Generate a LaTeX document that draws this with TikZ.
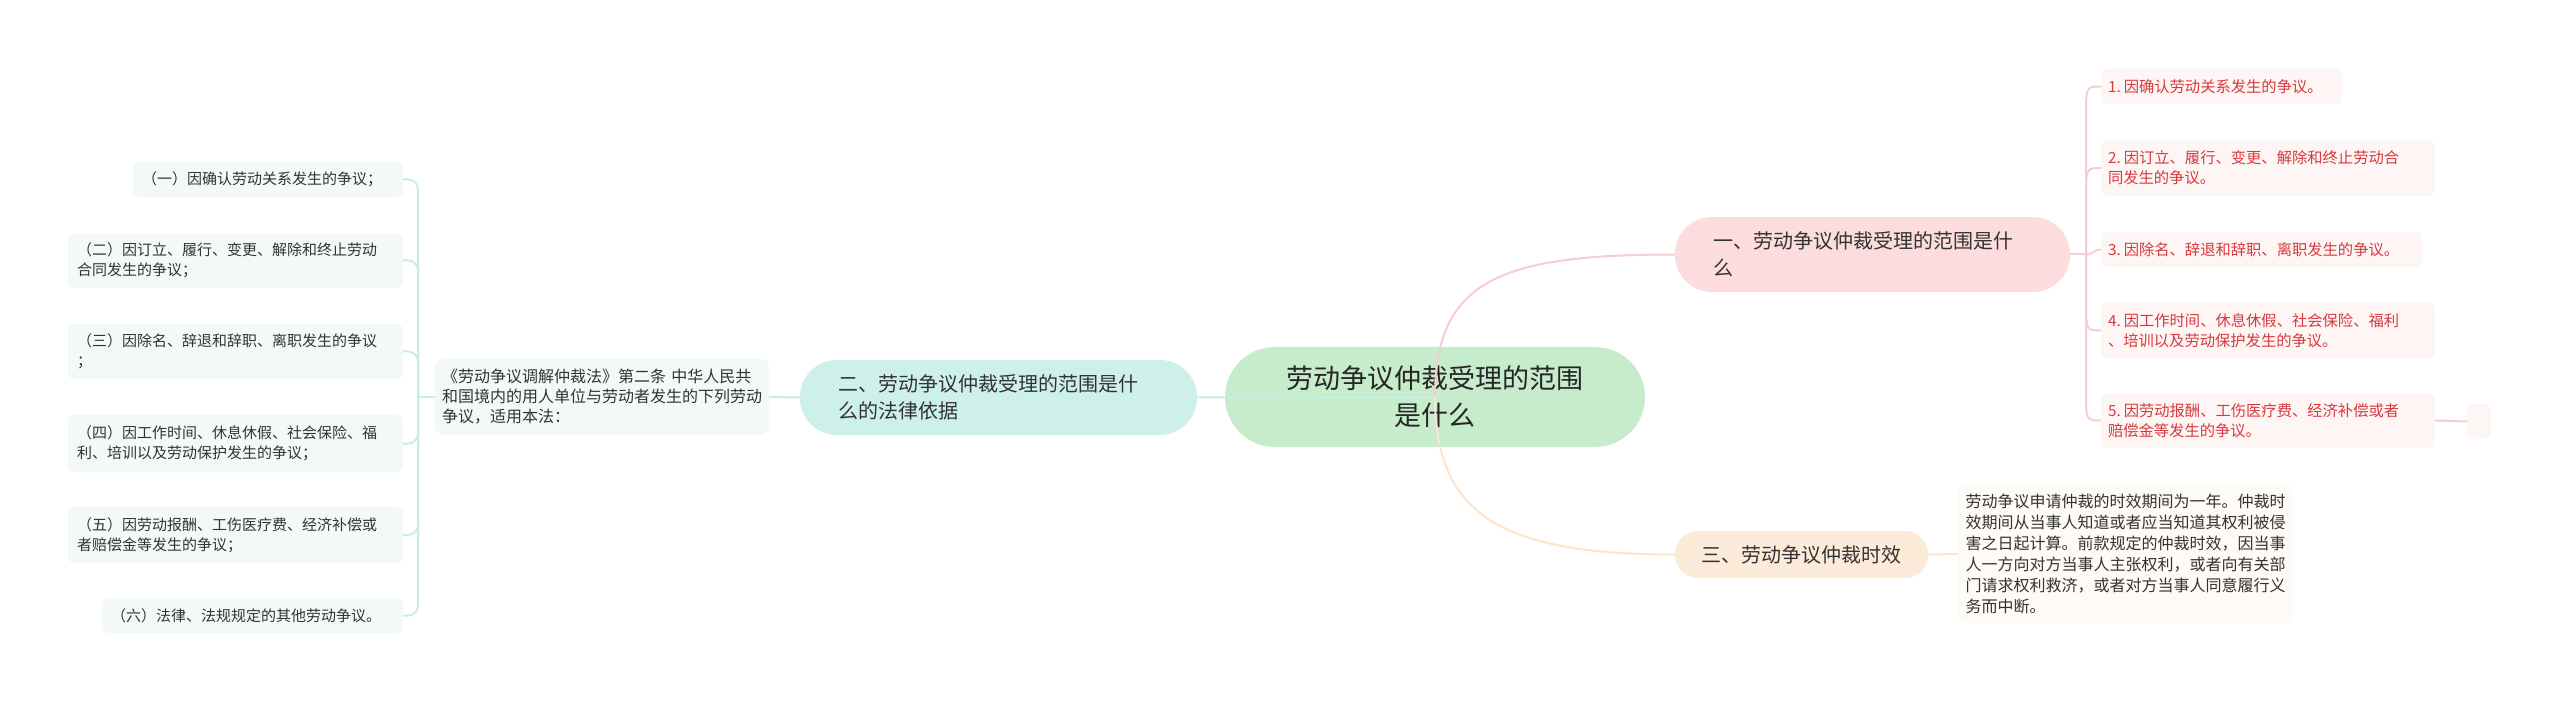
\documentclass[tikz,border=0pt]{standalone}
\usepackage{fontspec}
\setmainfont{Noto Sans CJK SC}
\usetikzlibrary{calc}
\definecolor{cfill}{HTML}{C6ECCB}
\definecolor{tfill}{HTML}{CEF0EA}
\definecolor{pfill}{HTML}{FCDCDC}
\definecolor{ofill}{HTML}{FDEBD9}
\definecolor{lfill}{HTML}{F3F9F9}
\definecolor{rfill}{HTML}{FEF5F5}
\definecolor{xfill}{HTML}{FEFAF5}
\definecolor{tline}{HTML}{C8ECE6}
\definecolor{pline}{HTML}{F6CDD0}
\definecolor{oline}{HTML}{FDE4CB}
\definecolor{txt}{HTML}{333333}
\definecolor{rtxt}{HTML}{D63A3F}
\begin{document}
\begin{tikzpicture}[x=1pt,y=-1pt,
  base/.style={inner ysep=0pt, outer sep=0pt, anchor=center, text=txt},
  pill/.style={base, align=left, font=\fontsize{20}{27}\selectfont},
  litem/.style={base, fill=lfill, rounded corners=6pt, inner xsep=9pt, align=left, font=\fontsize{15}{20}\selectfont},
  ritem/.style={base, fill=rfill, rounded corners=6pt, inner xsep=7pt, align=left, text=rtxt, font=\fontsize{15.3}{20}\selectfont},
  tl/.style={draw=tline, line width=2pt},
  pl/.style={draw=pline, line width=2pt},
  ol/.style={draw=oline, line width=2pt}]
\useasboundingbox (0,0) rectangle (2560,703);

% center
\node[base, fill=cfill, rounded corners=50pt, minimum width=420pt, minimum height=100pt, align=center, text=black!85, font=\fontsize{27}{37}\selectfont] (c) at (1435,397) {劳动争议仲裁受理的范围\\是什么};

% main branches
\node[pill, fill=tfill, rounded corners=37pt, inner xsep=38pt, text width=321pt, minimum height=75pt] (t) at (998.5,397.5) {二、劳动争议仲裁受理的范围是什\\么的法律依据};
\node[pill, fill=pfill, rounded corners=37pt, inner xsep=38pt, text width=319pt, minimum height=75pt] (p) at (1872.5,254.5) {一、劳动争议仲裁受理的范围是什\\么};
\node[pill, fill=ofill, rounded corners=23pt, inner xsep=12pt, text width=229pt, align=center, minimum height=47pt] (o) at (1801.5,554.5) {三、劳动争议仲裁时效};

% legal text
\node[base, fill=lfill, rounded corners=8pt, inner xsep=7pt, text width=320pt, minimum height=76pt, align=left, font=\fontsize{16}{20}\selectfont] (lg) at (602,397) {《劳动争议调解仲裁法》第二条 中华人民共\\和国境内的用人单位与劳动者发生的下列劳动\\争议，适用本法：};

% time text
\node[base, fill=xfill, rounded corners=8pt, inner xsep=7.5pt, text width=320pt, minimum height=138pt, align=left, font=\fontsize{16}{21}\selectfont] (x) at (2125.5,554) {劳动争议申请仲裁的时效期间为一年。仲裁时\\效期间从当事人知道或者应当知道其权利被侵\\害之日起计算。前款规定的仲裁时效，因当事\\人一方向对方当事人主张权利，或者向有关部\\门请求权利救济，或者对方当事人同意履行义\\务而中断。};

% left items
\node[litem, text width=252pt, minimum height=35pt] (l1) at (268,179.5) {（一）因确认劳动关系发生的争议；};
\node[litem, text width=317pt, minimum height=55pt] (l2) at (235.5,260.5) {（二）因订立、履行、变更、解除和终止劳动\\合同发生的争议；};
\node[litem, text width=317pt, minimum height=55pt] (l3) at (235.5,351.5) {（三）因除名、辞退和辞职、离职发生的争议\\；};
\node[litem, text width=317pt, minimum height=57pt] (l4) at (235.5,443.5) {（四）因工作时间、休息休假、社会保险、福\\利、培训以及劳动保护发生的争议；};
\node[litem, text width=317pt, minimum height=56pt] (l5) at (235.5,535) {（五）因劳动报酬、工伤医疗费、经济补偿或\\者赔偿金等发生的争议；};
\node[litem, text width=283pt, minimum height=35pt] (l6) at (252.5,615.5) {（六）法律、法规规定的其他劳动争议。};

% right items
\node[ritem, text width=227pt, minimum height=35pt] (r1) at (2221.5,86.5) {1.\kern3pt 因确认劳动关系发生的争议。};
\node[ritem, text width=320pt, minimum height=56pt] (r2) at (2268,168) {2.\kern3pt 因订立、履行、变更、解除和终止劳动合\\同发生的争议。};
\node[ritem, text width=307pt, minimum height=35pt] (r3) at (2261.5,249.5) {3.\kern3pt 因除名、辞退和辞职、离职发生的争议。};
\node[ritem, text width=320pt, minimum height=55pt] (r4) at (2268,330.5) {4.\kern3pt 因工作时间、休息休假、社会保险、福利\\、培训以及劳动保护发生的争议。};
\node[ritem, text width=320pt, minimum height=55pt] (r5) at (2268,420.5) {5.\kern3pt 因劳动报酬、工伤医疗费、经济补偿或者\\赔偿金等发生的争议。};
\node[base, fill=rfill, rounded corners=6pt, minimum width=24pt, minimum height=35pt, inner xsep=0pt] (r6) at (2479,421.5) {};

% connectors: center
\draw[tl] (c.center) -- (t.east);
\draw[pl] (c.center) .. controls (1435,280) and (1500,254.5) .. (p.west);
\draw[ol] (c.center) .. controls (1435,514) and (1500,554.5) .. (o.west);

% left side
\coordinate (lj) at (418,397);
\draw[tl] (t.west) -- (lg.east);
\draw[tl] (lg.west) -- (lj);
\foreach \n in {l1,l2,l3,l4,l5,l6}
  \draw[tl, rounded corners=10pt] (lj) |- (\n.east);

% right side
\coordinate (rj) at (2086,254.5);
\draw[pl] (p.east) -- (rj);
\foreach \n in {r1,r2}
  \draw[pl] (rj) -- ($(rj |- \n.west)+(0,30)$) .. controls (rj |- \n.west) .. (\n.west);
\foreach \n in {r4,r5}
  \draw[pl] (rj) -- ($(rj |- \n.west)+(0,-30)$) .. controls (rj |- \n.west) .. (\n.west);
\draw[pl] (rj) .. controls ($(rj)+(8,0)$) and ($(r3.west)+(-8,0)$) .. (r3.west);
\draw[pl] (r5.east) -- (r6.west);

% time branch
\draw[ol] (o.east) -- (x.west);
\end{tikzpicture}
\end{document}
